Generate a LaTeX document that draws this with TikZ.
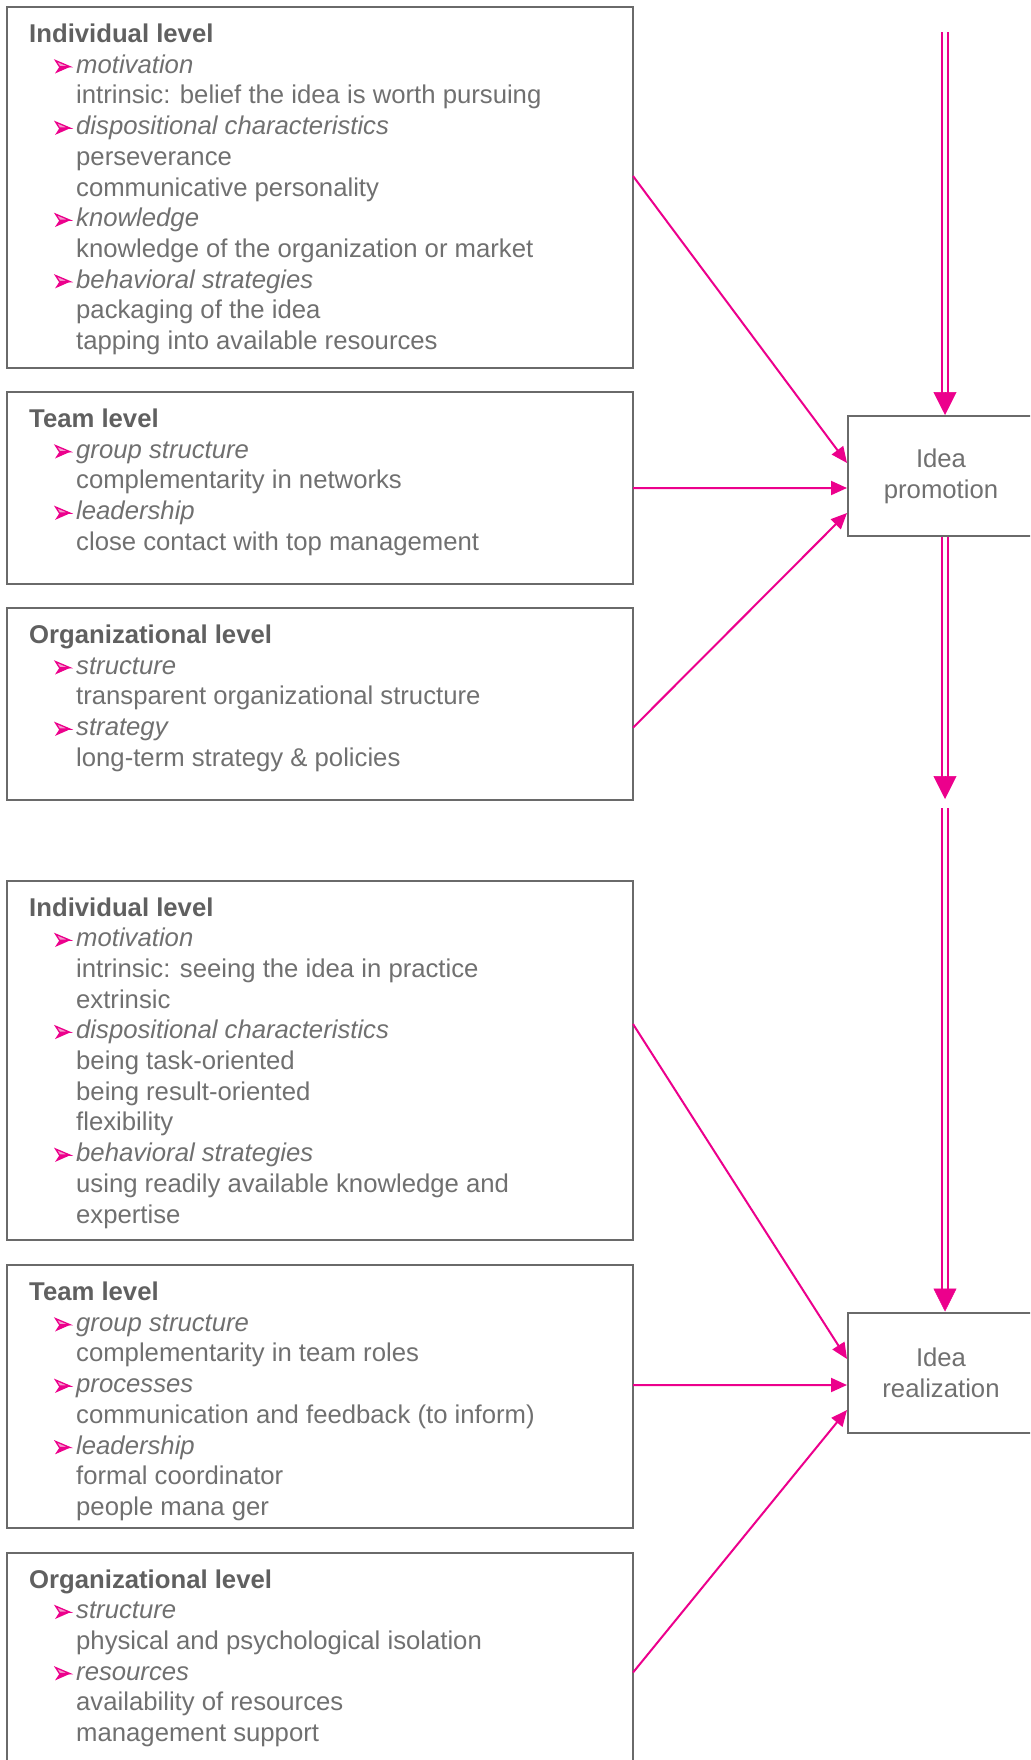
\documentclass[tikz,border=0pt]{standalone}
\usepackage{fontspec}
\setmainfont{Liberation Sans}
\usetikzlibrary{arrows.meta}
\definecolor{pinkc}{HTML}{EC008C}
\definecolor{pinkl}{HTML}{F39ACB}
\definecolor{txtgray}{HTML}{707070}
\definecolor{hdgray}{HTML}{606060}
\definecolor{boxgray}{HTML}{6A6A6A}
\newcommand\mainsize{\fontsize{25.7bp}{30.7bp}\selectfont}
\newcommand\lvllines[3]{%
  \foreach [count=\i from 0] \k/\t in {#3} {%
    \node[ln\k] (#1l\i) at (0,{#2+35.5+30.7*\i}) {\t};
    \ifnum\k=1 \path ([xshift=-21bp]#1l\i.base west) pic {bul};\fi
  }%
}
\tikzset{
  lnbase/.style={anchor=base west, inner sep=0, text=txtgray, font=\mainsize},
  ln0/.style={lnbase, xshift=29bp, text=hdgray, font=\mainsize\bfseries},
  ln1/.style={lnbase, xshift=76bp, font=\mainsize\itshape},
  ln2/.style={lnbase, xshift=76bp},
  lvlbox/.style={draw=boxgray, line width=2bp, anchor=north west, inner sep=0, outer sep=0, minimum width=626bp},
  ideabox/.style={draw=boxgray, line width=2bp, minimum width=186bp, minimum height=120bp, inner sep=0, align=center, text=txtgray, font=\mainsize},
  sarr/.style={draw=pinkc, line width=2bp, -{Triangle[length=16bp,width=14bp]}},
  dbl/.style={draw=pinkc, double=white, double distance=3.5bp, line width=2.6bp},
  bigtip/.style={draw=pinkc, fill=pinkc, line width=0.5bp, -{Triangle[length=23bp,width=23bp]}},
  bul/.pic={
    \fill[pinkc] (0,0.3) -- (4.5,-6.5) -- (15.5,-6.5) -- cycle;
    \filldraw[fill=pinkl, draw=pinkc, line width=1.3bp, line join=miter] (0.6,-12.6) -- (15,-6.5) -- (4.5,-6.5) -- cycle;
  }
}
\begin{document}
\begin{tikzpicture}[x=1bp,y=-1bp]
\useasboundingbox (0,0) rectangle (1030,1760);
\clip (0,0) rectangle (1030,1760);
% left boxes
\node[lvlbox, minimum height=361bp] (box1) at (7,7) {};
\node[lvlbox, minimum height=192bp] (box2) at (7,392) {};
\node[lvlbox, minimum height=192bp] (box3) at (7,608) {};
\node[lvlbox, minimum height=359.5bp] (box4) at (7,880.5) {};
\node[lvlbox, minimum height=263bp] (box5) at (7,1265) {};
\node[lvlbox, minimum height=240bp] (box6) at (7,1552.5) {};
% texts
\lvllines{ta}{7}{0/Individual level,1/motivation,2/intrinsic: belief the idea is worth pursuing,1/dispositional characteristics,2/perseverance,2/communicative personality,1/knowledge,2/knowledge of the organization or market,1/behavioral strategies,2/packaging of the idea,2/tapping into available resources}
\lvllines{tb}{392}{0/Team level,1/group structure,2/complementarity in networks,1/leadership,2/close contact with top management}
\lvllines{tc}{608}{0/Organizational level,1/structure,2/transparent organizational structure,1/strategy,2/long-term strategy \& policies}
\lvllines{td}{880.5}{0/Individual level,1/motivation,2/intrinsic: seeing the idea in practice,2/extrinsic,1/dispositional characteristics,2/being task-oriented,2/being result-oriented,2/flexibility,1/behavioral strategies,2/using readily available knowledge and,2/expertise}
\lvllines{te}{1265}{0/Team level,1/group structure,2/complementarity in team roles,1/processes,2/communication and feedback (to inform),1/leadership,2/formal coordinator,2/people mana ger}
\lvllines{tf}{1552.5}{0/Organizational level,1/structure,2/physical and psychological isolation,1/resources,2/availability of resources,2/management support}
% idea boxes
\node[ideabox] (prom) at (941,476) {Idea\\promotion};
\node[ideabox] (real) at (941,1372.5) {Idea\\realization};
% single arrows
\draw[sarr] ([yshift=11.5bp]box1.east) -- ([yshift=13bp]prom.west);
\draw[sarr] (box2.east) -- ([yshift=-12bp]prom.west);
\draw[sarr] ([yshift=-23.7bp]box3.east) -- ([yshift=-37bp]prom.west);
\draw[sarr] ([yshift=36.25bp]box4.east) -- ([yshift=13.5bp]real.west);
\draw[sarr] ([yshift=11.5bp]box5.east) -- ([yshift=-12.5bp]real.west);
\draw[sarr] (box6.east) -- ([yshift=-37.5bp]real.west);
% double arrows
\coordinate (ptop) at (945,32);
\coordinate (pin) at (prom.north -| ptop);
\coordinate (pout) at (prom.south -| ptop);
\coordinate (mid1) at (945,799);
\coordinate (mid2) at (945,808);
\coordinate (rin) at (real.north -| ptop);
\draw[dbl, shorten >=21bp] (ptop) -- (pin);
\draw[bigtip] ([yshift=22bp]pin) -- (pin);
\draw[dbl, shorten >=21bp] (pout) -- (mid1);
\draw[bigtip] ([yshift=22bp]mid1) -- (mid1);
\draw[dbl, shorten >=21bp] (mid2) -- (rin);
\draw[bigtip] ([yshift=22bp]rin) -- (rin);
\end{tikzpicture}
\end{document}
